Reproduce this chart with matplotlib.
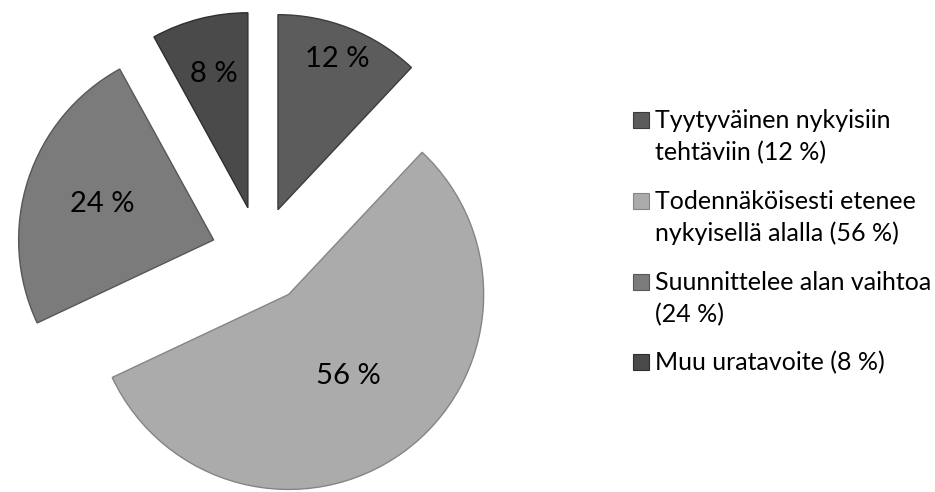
# Exploded pie of career goals (Finnish survey)
import matplotlib as mpl
mpl.use('Agg')
import matplotlib.pyplot as plt
from matplotlib.patches import Rectangle
import numpy as np

plt.rcParams['font.family'] = ['Lato', 'DejaVu Sans']

# data
labels = ['Tyytyväinen nykyisiin\ntehtäviin (12 %)',
          'Todennäköisesti etenee\nnykyisellä alalla (56 %)',
          'Suunnittelee alan vaihtoa\n(24 %)',
          'Muu uratavoite (8 %)']
values = [12, 56, 24, 8]
colors = ['#5c5c5c', '#ababab', '#7b7b7b', '#4a4a4a']
edges = ['#3c3c3c', '#858585', '#575757', '#2e2e2e']
label_dist = [0.83, 0.52, 0.60, 0.71]   # radial position of % labels

W, H = 935, 492
cx, cy, R = 260, 255, 195   # pie centre / radius in pixels


def fx(x):
    return x / W


def fy(y):
    return 1 - y / H


fig = plt.figure(figsize=(W / 100, H / 100), dpi=100)
ax = fig.add_axes([0, 0, 1, 1])

wedges, _ = ax.pie(values, colors=colors, startangle=90, counterclock=False,
                   explode=[0.25] * len(values), radius=1, center=(0, 0),
                   wedgeprops={'linewidth': 1.0})
for w, ec in zip(wedges, edges):
    w.set_edgecolor(ec)

ax.set_xlim(-cx / R, (W - cx) / R)
ax.set_ylim(-(H - cy) / R, cy / R)
ax.set_aspect('equal')
ax.axis('off')

# percentage labels
for w, v, d in zip(wedges, values, label_dist):
    th = np.deg2rad((w.theta1 + w.theta2) / 2)
    x0, y0 = w.center
    ax.text(x0 + d * np.cos(th), y0 + d * np.sin(th), f'{v} %',
            ha='center', va='center', fontsize=21, color='black')

# legend, drawn by hand (marker next to the first line of each entry)
leg_y = [120, 201, 282, 362]
for lab, col, ec, y in zip(labels, colors, edges, leg_y):
    fig.add_artist(Rectangle((fx(633), fy(y + 8)), 16 / W, 16 / H,
                             transform=fig.transFigure, facecolor=col,
                             edgecolor=ec, linewidth=0.8))
    for i, line in enumerate(lab.split('\n')):
        fig.text(fx(655), fy(y + 8 + 32 * i), line, ha='left', va='baseline',
                 fontsize=18, color='black')

fig.savefig('out.png', dpi=100)
